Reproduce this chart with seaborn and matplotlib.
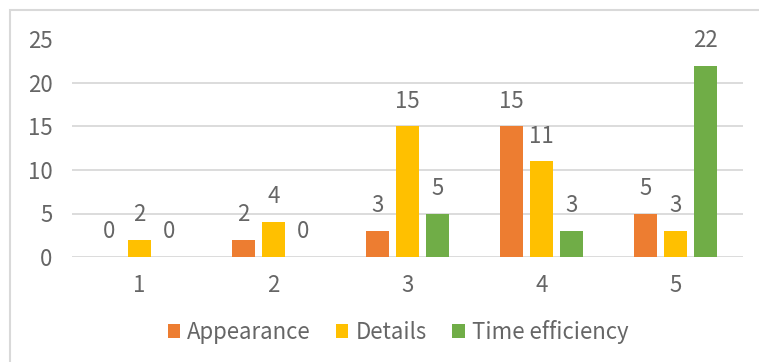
import matplotlib
matplotlib.use("Agg")
import matplotlib.pyplot as plt
import seaborn as sns
import pandas as pd
from matplotlib.patches import Patch, Rectangle

categories = ["1", "2", "3", "4", "5"]
appearance = [0, 2, 3, 15, 5]
details = [2, 4, 15, 11, 3]
time_eff = [0, 0, 5, 3, 22]
series_names = ["Appearance", "Details", "Time efficiency"]
colors = ["#ED7D31", "#FFC000", "#70AD47"]
yticks = [0, 5, 10, 15, 20, 25]

sns.set_theme(style="white")
plt.rcParams['font.family'] = ['Noto Sans CJK SC', 'DejaVu Sans']
TXT = "#666666"

rows = []
for name, vals in zip(series_names, [appearance, details, time_eff]):
    for c, v in zip(categories, vals):
        rows.append({"cat": c, "series": name, "value": v})
df = pd.DataFrame(rows)

W, H = 759, 362
fig = plt.figure(figsize=(W / 100, H / 100), dpi=100)
ax = fig.add_axes([72 / W, (H - 257) / H, 671 / W, 217.5 / H])

sns.barplot(data=df, x="cat", y="value", hue="series", order=categories,
            hue_order=series_names, palette=colors, width=0.672, gap=0.237,
            saturation=1, ax=ax, legend=False, linewidth=0)

ax.set_ylim(0, 25)
ax.set_xlim(-0.5, 4.5)
ax.set_yticks(yticks)
ax.set_xlabel("")
ax.set_ylabel("")
for s in ax.spines.values():
    s.set_visible(False)
ax.yaxis.grid(True, color="#d9d9d9", linewidth=1.3)
ax.set_axisbelow(True)
ax.tick_params(axis="both", length=0, labelsize=16, colors=TXT)
ax.tick_params(axis="y", pad=14)
ax.tick_params(axis="x", pad=12)

for cont in ax.containers:
    for bar in cont:
        h = bar.get_height()
        ax.annotate(f"{int(round(h))}", (bar.get_x() + bar.get_width() / 2, h),
                    xytext=(0, 13.5), textcoords="offset points",
                    ha="center", va="baseline", fontsize=16, color=TXT,
                    annotation_clip=False)

handles = [Patch(facecolor=c, edgecolor="none") for c in colors]
leg = fig.legend(handles, series_names, loc="center", bbox_to_anchor=(398 / W, 1 - 332 / H),
                 ncol=3, frameon=False, fontsize=16, handlelength=0.55, handleheight=0.55,
                 handletextpad=0.32, columnspacing=1.15, labelcolor=TXT)

# chart border (top & left visible)
fig.patches.append(Rectangle((10 / W, -0.1), 2, 1.1 - 10 / H, transform=fig.transFigure,
                             fill=False, edgecolor="#d9d9d9", linewidth=1.5))

fig.savefig("out.png", dpi=100)
